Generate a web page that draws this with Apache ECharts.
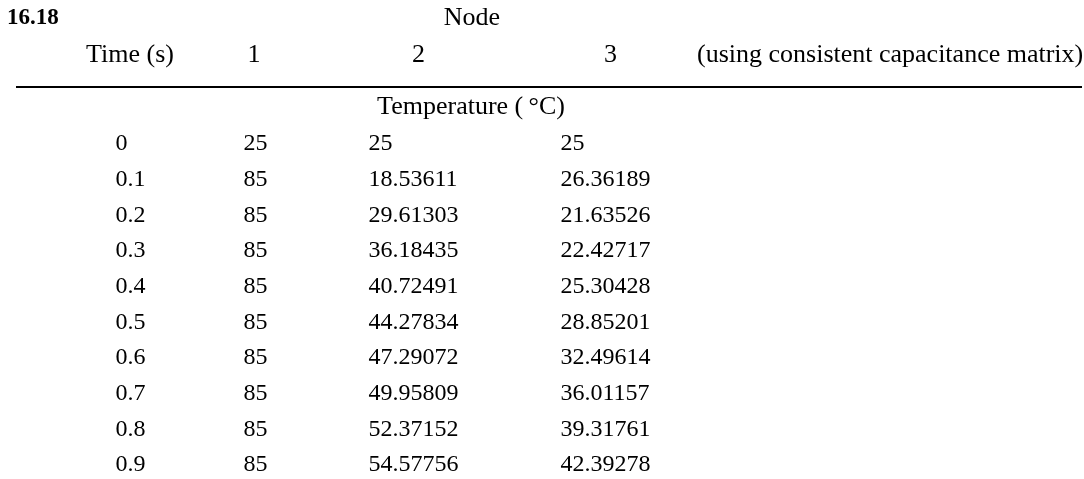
<!DOCTYPE html>
<head>
    <meta charset="utf-8">
    <title>ECharts</title>
    <script type="text/javascript" src="https://cdn.jsdelivr.net/npm/echarts@6/dist/echarts.min.js"></script>
    <style>
        html, body { margin: 0; padding: 0; background: #fff; }
    </style>
</head>

<body>
<div id="main" style="width:1084px;height:479px"></div>

<script type="text/javascript">

    // table data
    var times = ['0', '0.1', '0.2', '0.3', '0.4', '0.5', '0.6', '0.7', '0.8', '0.9'];
    var node1 = [25, 85, 85, 85, 85, 85, 85, 85, 85, 85];
    var node2 = [25, 18.53611, 29.61303, 36.18435, 40.72491, 44.27834, 47.29072, 49.95809, 52.37152, 54.57756];
    var node3 = [25, 26.36189, 21.63526, 22.42717, 25.30428, 28.85201, 32.49614, 36.01157, 39.31761, 42.39278];
    var headers = ['Time (s)', '1', '2', '3', '(using consistent capacitance matrix)'];

    // layout (pixels): left edge of each data column, centre of each header
    var colLeft = [115, 243, 368, 560];
    var headerX = [130, 254, 418.5, 610.5, 697];

    var FONT = "'Liberation Serif', 'Times New Roman', serif";
    var FS = 24;      // cell text
    var HFS = 26;     // header text

    var myChart = echarts.init(document.getElementById('main'));

    // one scatter series per column, the text is the label
    function column(c, values) {
        return {
            type: 'scatter',
            silent: true,
            symbolSize: 1,
            itemStyle: { color: 'transparent' },
            data: times.map(function (t, i) { return [colLeft[c], t, values[i]]; }),
            label: {
                show: true,
                position: 'right',
                distance: 0,
                color: '#000',
                opacity: 1,
                fontFamily: FONT,
                fontSize: FS,
                formatter: function (p) { return String(p.value[2]); }
            }
        };
    }

    function text(str, x, y, align, size, bold) {
        return {
            type: 'text', x: x, y: y, silent: true,
            style: {
                text: str, fill: '#000', font: (bold ? 'bold ' : '') + size + 'px ' + FONT,
                textAlign: align, textVerticalAlign: 'middle'
            }
        };
    }

    var graphics = [
        text('16.18', 7, 18.5, 'left', 23, true),
        text('Node', 472, 18, 'center', HFS),
        text('Temperature (\u2009\u00B0C)', 471, 107, 'center', HFS),
        {
            type: 'line', silent: true,
            shape: { x1: 16, y1: 87, x2: 1082, y2: 87 },
            style: { stroke: '#000', lineWidth: 2 }
        }
    ];
    headers.forEach(function (h, i) {
        graphics.push(text(h, headerX[i], 55, i === headers.length - 1 ? 'left' : 'center', HFS));
    });

    var option = {
        animation: false,
        backgroundColor: '#fff',
        grid: { left: 0, right: 0, top: 144, bottom: 14 },
        xAxis: { type: 'value', min: 0, max: 1084, show: false },
        yAxis: { type: 'category', data: times, inverse: true, boundaryGap: false, show: false },
        graphic: graphics,
        series: [
            column(0, times),
            column(1, node1),
            column(2, node2),
            column(3, node3)
        ]
    };

    myChart.setOption(option);

</script>
</body>
